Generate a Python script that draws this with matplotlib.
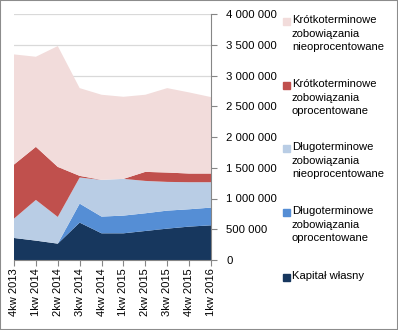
import matplotlib
matplotlib.use('Agg')
import matplotlib.pyplot as plt
from matplotlib.patches import Rectangle
from matplotlib.ticker import FuncFormatter
import numpy as np

quarters = ['4kw 2013', '1kw 2014', '2kw 2014', '3kw 2014', '4kw 2014',
            '1kw 2015', '2kw 2015', '3kw 2015', '4kw 2015', '1kw 2016']

# balance sheet structure, in PLN
kapital = [358000, 315000, 266000, 608000, 434000, 434000, 472000, 510000, 543000, 564000]
dl_oproc = [0, 0, 0, 309000, 272000, 288000, 288000, 293000, 282000, 288000]
dl_nieoproc = [315000, 662000, 434000, 424000, 597000, 597000, 526000, 467000, 440000, 413000]
kr_oproc = [879000, 863000, 814000, 27000, 0, 0, 147000, 152000, 141000, 141000]
kr_nieoproc = [1791000, 1465000, 1965000, 1427000, 1384000, 1335000, 1254000, 1373000, 1319000, 1243000]

series = [kapital, dl_oproc, dl_nieoproc, kr_oproc, kr_nieoproc]
labels = ['Kapitał własny',
          'Długoterminowe\nzobowiązania\noprocentowane',
          'Długoterminowe\nzobowiązania\nnieoprocentowane',
          'Krótkoterminowe\nzobowiązania\noprocentowane',
          'Krótkoterminowe\nzobowiązania\nnieoprocentowane']
colors = ['#17375E', '#558ED5', '#B9CDE5', '#C0504D', '#F2DCDB']

plt.rcParams['font.family'] = ['Liberation Sans', 'DejaVu Sans']

W, H = 398, 330
fig = plt.figure(figsize=(W / 100, H / 100), dpi=100)
fig.patches.append(Rectangle((0, 0), 1, 1, transform=fig.transFigure,
                             fill=False, edgecolor='#8C8C8C', linewidth=1.5))

ax = fig.add_axes([14 / W, (H - 260) / H, (211 - 14) / W, (260 - 14) / H])
x = np.arange(len(quarters))
ax.stackplot(x, *series, colors=colors, linewidth=0)

ax.set_xlim(0, len(quarters) - 1)
ax.set_ylim(0, 4000000)
ax.set_yticks(np.arange(0, 4000001, 500000))
ax.yaxis.set_major_formatter(FuncFormatter(lambda v, p: '{:,.0f}'.format(v).replace(',', ' ')))
ax.yaxis.tick_right()
ax.grid(axis='y', color='#D9D9D9', linewidth=0.9)
ax.set_axisbelow(True)

ax.set_xticks(x)
ax.set_xticklabels(quarters, rotation=90, fontsize=8)
ax.tick_params(axis='y', labelsize=8.2, colors='#868686', labelcolor='black', length=4, pad=7)
ax.tick_params(axis='x', colors='#868686', labelcolor='black', length=4, pad=2)

for s in ['left', 'top']:
    ax.spines[s].set_visible(False)
for s in ['right', 'bottom']:
    ax.spines[s].set_color('#868686')

# legend, top entry first
entry_y = [21, 85, 148, 212, 277]
for lab, col, yy in zip(labels[::-1], colors[::-1], entry_y):
    fig.patches.append(Rectangle((283 / W, 1 - (yy + 4) / H), 7 / W, 7 / H,
                                 transform=fig.transFigure, color=col))
    fig.text(292 / W, 1 - (yy - 6) / H, lab, fontsize=8.1, va='top', ha='left',
             linespacing=1.45)

fig.savefig('out.png', dpi=100)
